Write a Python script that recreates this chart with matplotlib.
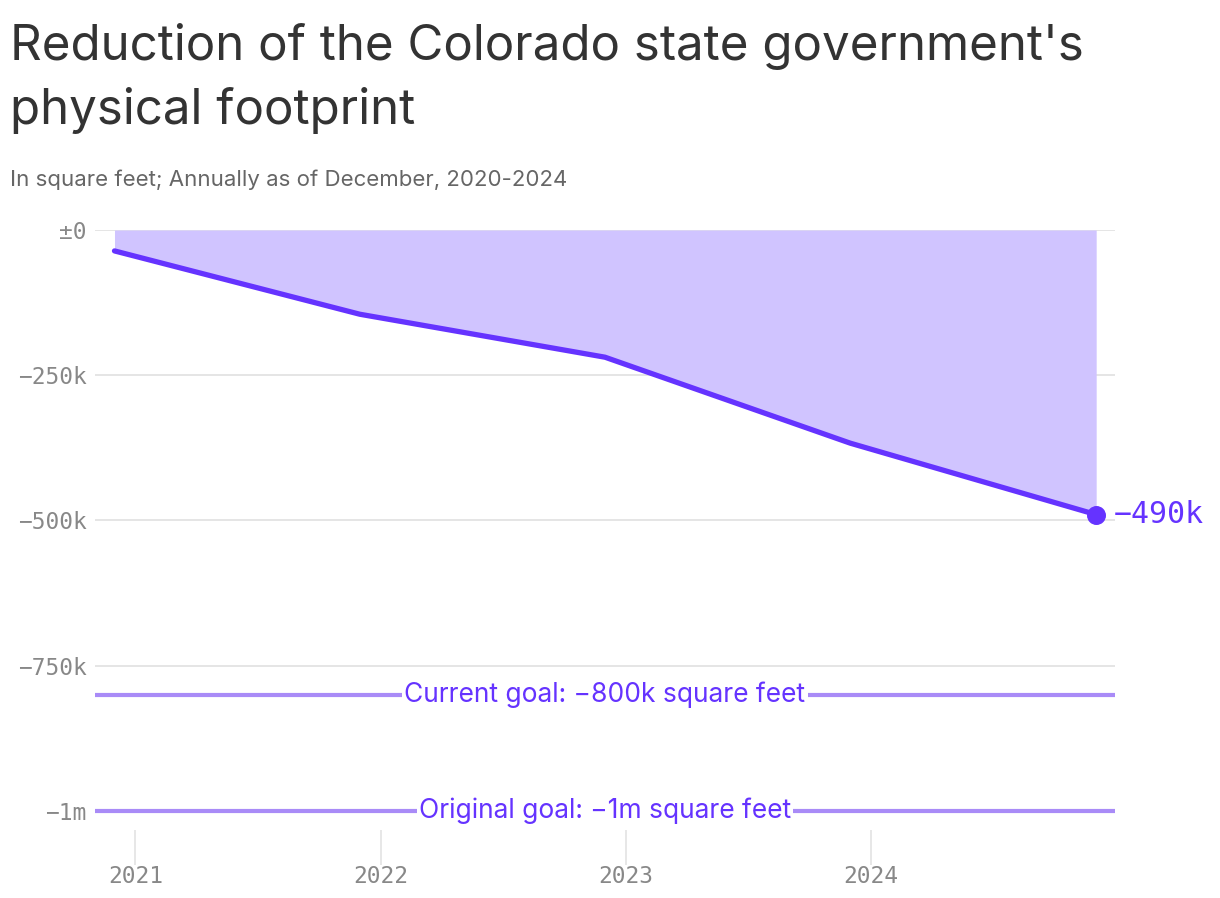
import datetime as dt
import matplotlib
matplotlib.use("Agg")
import matplotlib.pyplot as plt

# data: change in footprint, square feet, as of December each year
dates = [dt.date(2020, 12, 1), dt.date(2021, 12, 1), dt.date(2022, 12, 1),
         dt.date(2023, 12, 1), dt.date(2024, 12, 1)]
change = [-36000, -145000, -219000, -367000, -490000]

goal_values = [-800000, -1000000]
goal_labels = ["Current goal: \u2212800k square feet", "Original goal: \u22121m square feet"]

y_ticks = [0, -250000, -500000, -750000, -1000000]
y_tick_labels = ["\u00b10", "\u2212250k", "\u2212500k", "\u2212750k", "\u22121m"]
x_ticks = [dt.date(2021, 1, 1), dt.date(2022, 1, 1), dt.date(2023, 1, 1), dt.date(2024, 1, 1)]
x_tick_labels = ["2021", "2022", "2023", "2024"]

purple = "#6533ff"
fill_col = "#d0c4ff"
goal_col = "#a98bf7"
grid_col = "#e3e3e3"
mono = "DejaVu Sans Mono"
sans = ["Inter", "DejaVu Sans"]

fig = plt.figure(figsize=(12.2, 8.98), dpi=100)
ax = fig.add_axes([95 / 1220, 1 - 830 / 898, 1020 / 1220, 600 / 898])

ax.fill_between(dates, change, 0, color=fill_col, linewidth=0, zorder=1)
ax.plot(dates, change, color=purple, lw=3.8, solid_capstyle="round", zorder=3)
ax.scatter([dates[-1]], [change[-1]], s=160, color=purple, zorder=4)
ax.annotate("\u2212490k", (dates[-1], change[-1]), xytext=(13, 0), textcoords="offset points",
            va="center", ha="left", fontsize=21.5, family=mono, color=purple,
            annotation_clip=False)

for v, lab in zip(goal_values, goal_labels):
    ax.axhline(v, color=goal_col, lw=3, zorder=2)
    ax.text(0.5, v, lab, transform=ax.get_yaxis_transform(), ha="center", va="center",
            fontsize=19, family=sans, color=purple, zorder=5,
            bbox=dict(facecolor="white", edgecolor="none", pad=1.5))

ax.set_ylim(-1033000, 0)
ax.set_xlim(dt.date(2020, 11, 2), dt.date(2024, 12, 29))
ax.set_yticks(y_ticks)
ax.set_yticklabels(y_tick_labels, family=mono, fontsize=16.5, color="#888888")
ax.set_xticks(x_ticks)
ax.set_xticklabels(x_tick_labels, family=mono, fontsize=16.5, color="#888888")
ax.tick_params(axis="y", length=0, pad=6)
ax.tick_params(axis="x", length=25, width=1.2, color=grid_col, pad=0.5, direction="out")
ax.grid(axis="y", color=grid_col, lw=1.3, zorder=0)
ax.set_axisbelow(True)
for s in ax.spines.values():
    s.set_visible(False)

fig.text(10 / 1220, 1 - 46 / 898, "Reduction of the Colorado state government's",
         family=sans, fontsize=35.5, color="#333333", va="center")
fig.text(10 / 1220, 1 - 111 / 898, "physical footprint",
         family=sans, fontsize=35.5, color="#333333", va="center")
fig.text(10 / 1220, 1 - 180 / 898, "In square feet; Annually as of December, 2020-2024",
         family=sans, fontsize=16, color="#666666", va="center")

fig.savefig("out.png", dpi=100, facecolor="white")
